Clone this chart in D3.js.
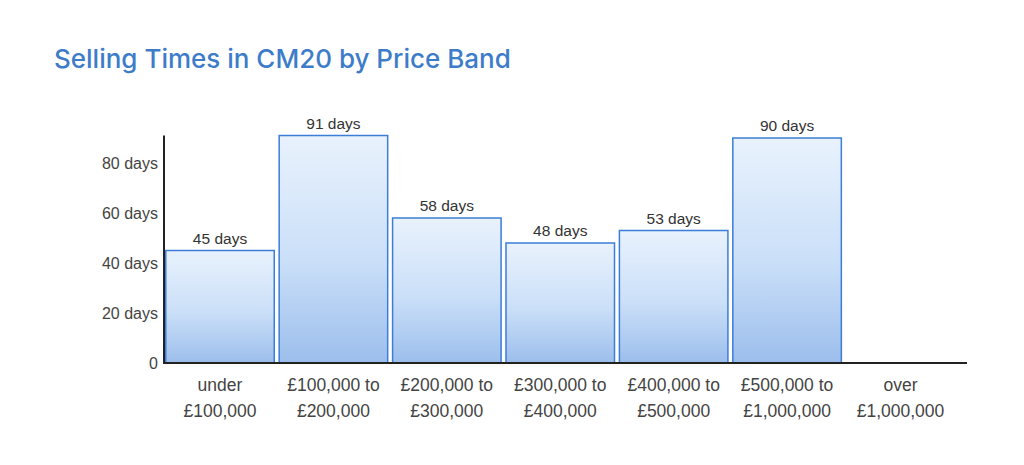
<!DOCTYPE html>
<html>
<head>
<meta charset="utf-8">
<script src="https://cdn.jsdelivr.net/npm/d3@7"></script>
<style>
  body { margin: 0; background: #ffffff; }
  svg { display: block; }
</style>
</head>
<body>
<div id="chart"></div>
<script>
// data
const categories = [
    ["under", "£100,000"],
    ["£100,000 to", "£200,000"],
    ["£200,000 to", "£300,000"],
    ["£300,000 to", "£400,000"],
    ["£400,000 to", "£500,000"],
    ["£500,000 to", "£1,000,000"],
    ["over", "£1,000,000"]
];
const days = [45, 91, 58, 48, 53, 90, 0];
const yTicks = [0, 20, 40, 60, 80];

const W = 1024, H = 465;
const plot = { left: 165, right: 955.5, top: 135.5, bottom: 363 };

const svg = d3.select("#chart").append("svg")
    .attr("width", W)
    .attr("height", H);

// vertical gradient for the bars
const grad = svg.append("defs").append("linearGradient")
    .attr("id", "barGrad")
    .attr("x1", 0).attr("y1", 0)
    .attr("x2", 0).attr("y2", 1);
grad.append("stop").attr("offset", "0%").attr("stop-color", "#e9f2fd");
grad.append("stop").attr("offset", "55%").attr("stop-color", "#cadff8");
grad.append("stop").attr("offset", "100%").attr("stop-color", "#9cbeec");

// title
svg.append("text")
    .attr("x", 54)
    .attr("y", 68)
    .style("font-family", "Inter, 'Open Sans', sans-serif")
    .style("font-size", "26px")
    .style("font-weight", 500)
    .style("fill", "#3d7cc9")
    .text("Selling Times in CM20 by Price Band");

const x = d3.scaleBand()
    .domain(d3.range(categories.length))
    .range([plot.left, plot.right])
    .paddingInner(0.03)
    .paddingOuter(0);

const y = d3.scaleLinear()
    .domain([0, 91])
    .range([plot.bottom, plot.top]);

const barData = days.map((d, i) => ({ v: d, i: i })).filter(d => d.v > 0);

// bars
svg.selectAll("rect.bar")
    .data(barData)
    .enter()
    .append("rect")
    .attr("class", "bar")
    .attr("x", d => x(d.i) + 0.75)
    .attr("y", d => y(d.v))
    .attr("width", x.bandwidth() - 1.5)
    .attr("height", d => y(0) - y(d.v))
    .style("fill", "url(#barGrad)")
    .style("stroke", "#3b7dd8")
    .style("stroke-width", 1.5);

// value labels
svg.selectAll("text.val")
    .data(barData)
    .enter()
    .append("text")
    .attr("class", "val")
    .attr("x", d => x(d.i) + x.bandwidth() / 2)
    .attr("y", d => y(d.v) - 7)
    .attr("text-anchor", "middle")
    .style("font-family", "'Liberation Sans', Arial, sans-serif")
    .style("font-size", "15.5px")
    .style("fill", "#333")
    .text(d => d.v + " days");

// y axis
const yAxis = svg.append("g")
    .attr("transform", "translate(" + (plot.left - 1) + ",0)")
    .call(d3.axisLeft(y)
        .tickValues(yTicks)
        .tickSize(0)
        .tickPadding(6)
        .tickFormat(d => d === 0 ? "0" : d + " days"));
yAxis.select(".domain")
    .attr("d", "M0," + plot.bottom + "V" + plot.top)
    .style("stroke", "#222")
    .style("stroke-width", 2);
yAxis.selectAll("text")
    .style("font-family", "'Liberation Sans', Arial, sans-serif")
    .style("font-size", "16px")
    .style("fill", "#444");

// x axis
const xAxis = svg.append("g")
    .attr("transform", "translate(0," + plot.bottom + ")")
    .call(d3.axisBottom(x).tickSize(0).tickFormat(""));
xAxis.select(".domain")
    .attr("d", "M" + (plot.left - 2) + ",0H967")
    .style("stroke", "#222")
    .style("stroke-width", 2);

// two-line category labels
svg.selectAll("text.cat")
    .data(categories)
    .enter()
    .append("text")
    .attr("class", "cat")
    .attr("text-anchor", "middle")
    .style("font-family", "'Liberation Sans', Arial, sans-serif")
    .style("font-size", "17.5px")
    .style("fill", "#444")
    .each(function (d, i) {
        const t = d3.select(this);
        d.forEach((line, k) => {
            t.append("tspan")
                .attr("x", x(i) + x.bandwidth() / 2)
                .attr("y", 391 + k * 26)
                .text(line);
        });
    });
</script>
</body>
</html>
